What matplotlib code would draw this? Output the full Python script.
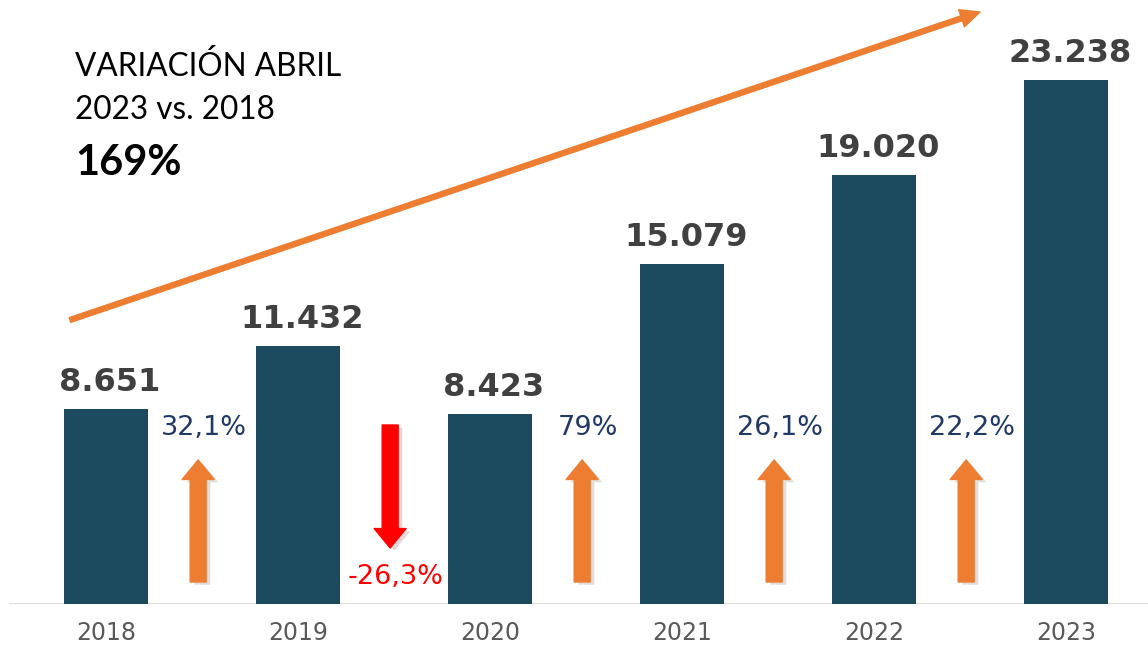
import matplotlib
matplotlib.use("Agg")
import matplotlib.pyplot as plt
import matplotlib.patheffects as pe
from matplotlib.patches import FancyArrowPatch

years = ["2018", "2019", "2020", "2021", "2022", "2023"]
values = [8651, 11432, 8423, 15079, 19020, 23238]
value_labels = ["8.651", "11.432", "8.423", "15.079", "19.020", "23.238"]
changes = [32.1, -26.3, 79.0, 26.1, 22.2]
change_labels = ["32,1%", "-26,3%", "79%", "26,1%", "22,2%"]

BAR = "#1c4a5e"
ORANGE = "#ed7d31"
RED = "#ff0000"
NAVY = "#1f3864"

fig = plt.figure(figsize=(11.48, 6.5), dpi=100)
ax = fig.add_axes([0, 46 / 650, 1, 604 / 650])
ax.set_xlim(-0.552, 5.427)
ax.set_ylim(0, 26785)

x = range(len(years))
ax.bar(x, values, width=0.4375, color=BAR, zorder=2)
for i, (v, lab) in enumerate(zip(values, value_labels)):
    ax.annotate(lab, (i + 0.02, v), xytext=(0, 8), textcoords="offset points",
                ha="center", va="bottom", fontsize=23, fontweight="bold",
                color="#404040", family="DejaVu Sans")

shadow = [pe.SimplePatchShadow(offset=(3, -2), alpha=0.15), pe.Normal()]
for i, (c, lab) in enumerate(zip(changes, change_labels)):
    xa = i + 0.48
    if c >= 0:
        start, end, col = 976, 6386, ORANGE
        ax.text(i + 0.51, 7800, lab, ha="center", va="center", fontsize=19.5,
                color=NAVY)
    else:
        start, end, col = 7938, 2483, RED
        ax.text(i + 0.51, 1200, lab, ha="center", va="center", fontsize=19.5,
                color=RED)
    arr = FancyArrowPatch((xa, start), (xa, end),
                          arrowstyle="simple,head_width=23,head_length=14,tail_width=11.5",
                          mutation_scale=1, color=col, shrinkA=0, shrinkB=0, zorder=3)
    arr.set_path_effects(shadow)
    ax.add_patch(arr)

# overall trend arrow
trend = FancyArrowPatch((-0.1875, 12594), (4.552, 26252),
                        arrowstyle="simple,head_width=13,head_length=14,tail_width=3.6",
                        mutation_scale=1, color=ORANGE, shrinkA=0, shrinkB=0, zorder=3)
ax.add_patch(trend)

ax.axhline(0, xmin=0.009, xmax=1, color="#d9d9d9", linewidth=2, zorder=1)
ax.set_xticks(list(x))
ax.set_xticklabels(years, fontsize=17, color="#595959")
ax.tick_params(axis="x", length=0, pad=12)
ax.set_yticks([])
for s in ax.spines.values():
    s.set_visible(False)

fig.text(75 / 1148, 1 - 66 / 650, "VARIACIÓN ABRIL", fontsize=22.7, family="Lato",
         va="center", ha="left", color="black")
fig.text(75 / 1148, 1 - 110 / 650, "2023 vs. 2018", fontsize=22.7, family="Lato",
         va="center", ha="left", color="black")
fig.text(75 / 1148, 1 - 163 / 650, "169%", fontsize=30, family="Lato",
         fontweight="bold", va="center", ha="left", color="black")

fig.savefig("out.png", dpi=100)
